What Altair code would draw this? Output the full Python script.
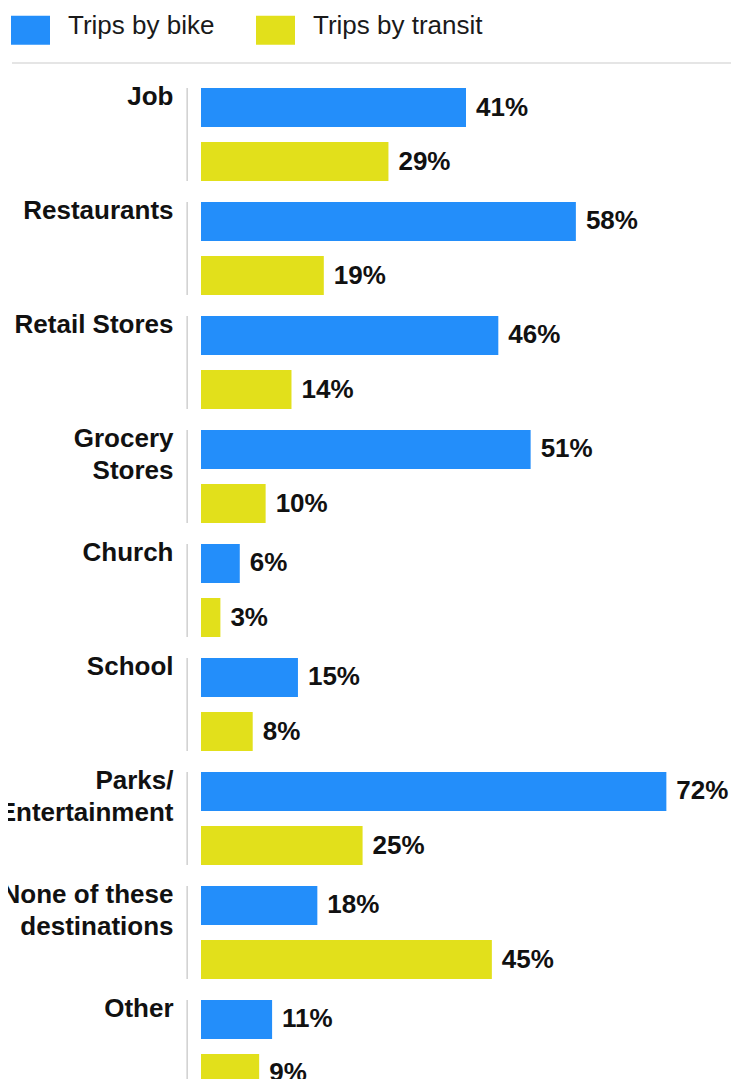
import altair as alt
import pandas as pd

categories = ["Job", "Restaurants", "Retail Stores", "Grocery|Stores", "Church",
              "School", "Parks/|Entertainment", "None of these|destinations", "Other"]
series = ["Trips by bike", "Trips by transit"]
bike = [41, 58, 46, 51, 6, 15, 72, 18, 11]
transit = [29, 19, 14, 10, 3, 8, 25, 45, 9]
colors = ["#238efa", "#e2e01b"]

rows = []
for c, b, t in zip(categories, bike, transit):
    rows.append({"category": c, "series": series[0], "value": b, "label": f"{b}%"})
    rows.append({"category": c, "series": series[1], "value": t, "label": f"{t}%"})
df = pd.DataFrame(rows)

FONT = "Liberation Sans"

y = alt.Y(
    "category:N",
    sort=categories,
    title=None,
    scale=alt.Scale(paddingInner=0.184, paddingOuter=0, range=[0, 1005]),
    axis=alt.Axis(
        domain=False, ticks=False, grid=False,
        labelExpr="split(datum.label, '|')",
        labelFont=FONT, labelFontSize=26, labelFontWeight="bold", labelColor="#111111",
        labelBaseline="top", labelAlign="right", labelPadding=28, labelLineHeight=32,
        labelLimit=400, labelOverlap=False, labelOffset=-50.5,
    ),
)
yoff = alt.YOffset("series:N", sort=series,
                   scale=alt.Scale(paddingInner=0.278, paddingOuter=0))
x = alt.X("value:Q", scale=alt.Scale(domain=[0, 82], nice=False), axis=None)

legend_path = "M-1,-0.923H1V0.564H-1Z"
color = alt.Color(
    "series:N", sort=series,
    scale=alt.Scale(domain=series, range=colors),
    legend=alt.Legend(
        title=None, orient="none", direction="horizontal",
        legendX=-190, legendY=-74, padding=0,
        symbolType=legend_path, symbolSize=1521, symbolStrokeWidth=0, symbolOpacity=1,
        labelFont=FONT, labelFontSize=26, labelFontWeight="normal", labelColor="#1a1a1a",
        labelBaseline="alphabetic", labelOffset=18, columnPadding=41, labelLimit=400,
    ),
)

base = alt.Chart(df)
bars = base.mark_bar().encode(x=x, y=y, yOffset=yoff, color=color)
texts = base.mark_text(
    align="left", baseline="middle", dx=10, font=FONT, fontSize=26,
    fontWeight="bold", color="#111111",
).encode(x=x, y=y, yOffset=yoff, text="label:N")

vlines = alt.Chart(pd.DataFrame({"category": categories})).mark_rect(
    color="#c8c8c8"
).encode(y=y, x=alt.value(-14.5), x2=alt.value(-13.2))

hrule = alt.Chart(pd.DataFrame({"k": [0]})).mark_rule(
    color="#dcdcdc", strokeWidth=1.5
).encode(x=alt.value(-189), x2=alt.value(530), y=alt.value(-25))

chart = alt.layer(vlines, hrule, bars, texts).properties(
    width=530, height=991,
    autosize=alt.AutoSizeParams(type="none"),
    padding={"left": 193, "top": 80, "right": 0, "bottom": 0},
).configure_view(stroke=None)

chart.save("out.html", embed_options={"renderer": "svg", "actions": False})
